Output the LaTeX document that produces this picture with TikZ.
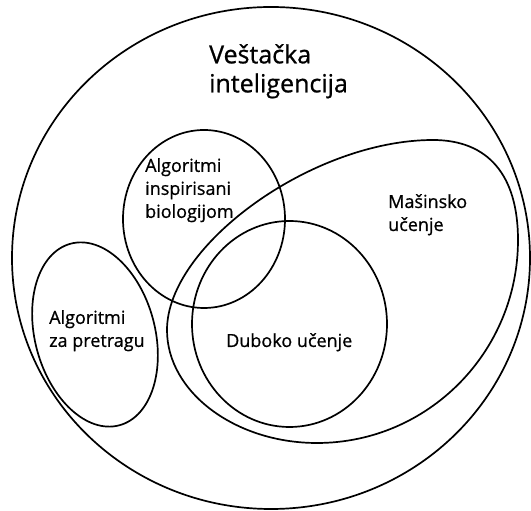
\documentclass[tikz,border=0pt]{standalone}
\usepackage{fontspec}
\setmainfont{Open Sans}[FakeBold=0.8]
\usepackage{tikz}
\begin{document}
\begin{tikzpicture}[x=1pt, y=1pt,
    setline/.style={draw=black, line width=1.7pt},
    setlabel/.style={align=left, anchor=north west, inner sep=0pt, font=\fontsize{18}{23}\selectfont}]
\useasboundingbox (0,0) rectangle (531,511);
\draw[setline] (271,253) ellipse [x radius=259, y radius=251];
\draw[setline] (204,292) ellipse [x radius=81, y radius=89];
\draw[setline, rotate around={15:(95,176.5)}] (95,176.5) ellipse [x radius=60, y radius=94];
\draw[setline] (289.5,187) ellipse [x radius=97.5, y radius=103];
\draw[setline] (433,371) .. controls (488,371) and (518,336) .. (518,271)
    .. controls (518,159) and (428,68) .. (317,68)
    .. controls (235,68) and (167,119) .. (167,181)
    .. controls (167,266) and (313,371) .. cycle;
\node[setlabel, font=\fontsize{25}{29}\selectfont] (ai) at (209,467) {Veštačka\\inteligencija};
\node[setlabel] (bio) at (145,353) {Algoritmi\\inspirisani\\biologijom};
\node[setlabel] (ml) at (388,317) {Mašinsko\\učenje};
\node[setlabel] (search) at (49,201) {Algoritmi\\za pretragu};
\node[setlabel] (deep) at (226,178) {Duboko učenje};
\end{tikzpicture}
\end{document}
